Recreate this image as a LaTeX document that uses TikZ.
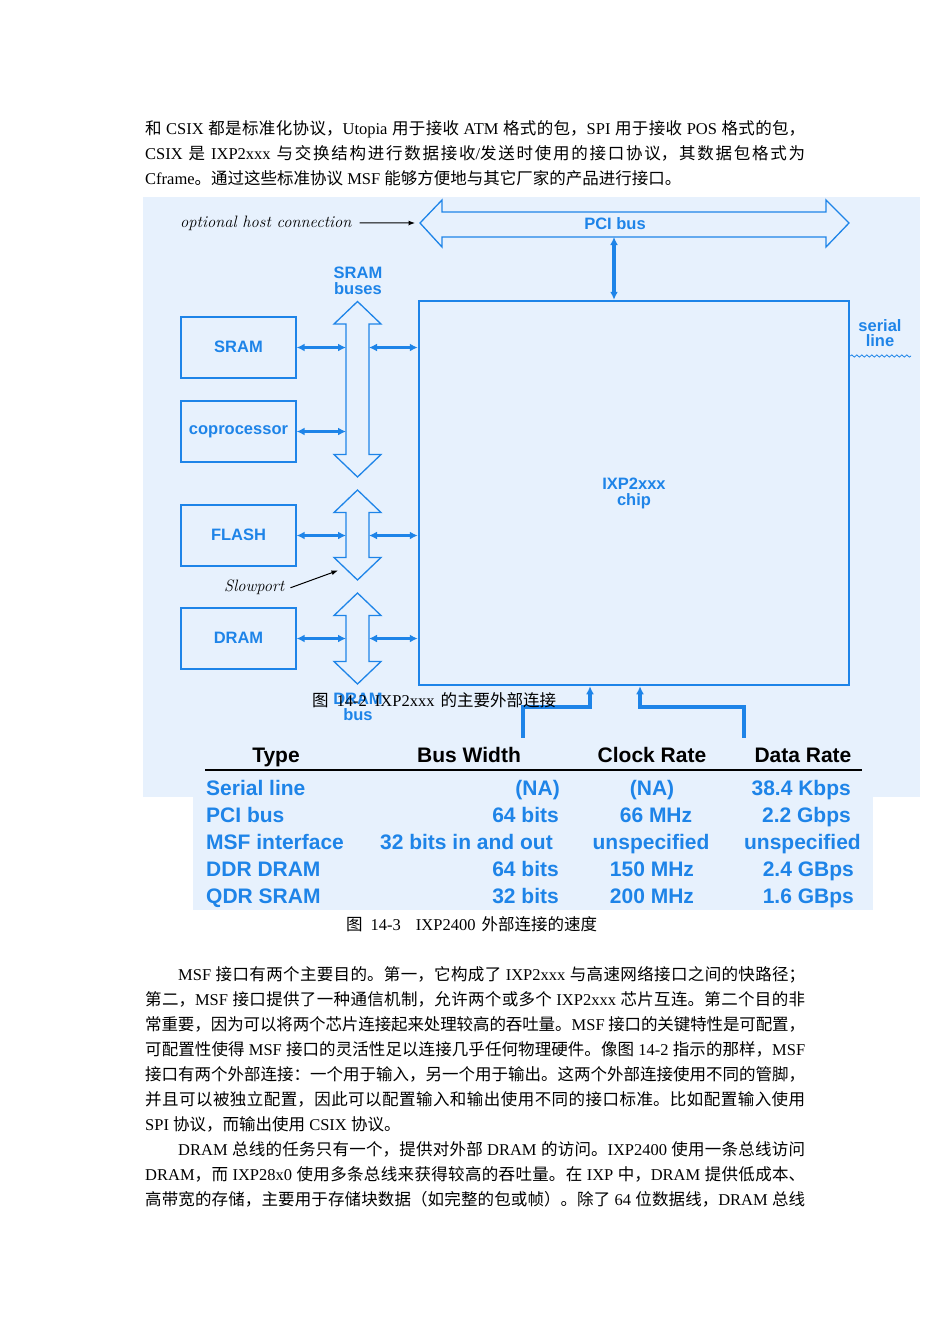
\documentclass[tikz,border=0pt]{standalone}
\usepackage{fontspec}
\newfontfamily\zhfont{Noto Sans CJK SC}
\newfontfamily\tnr{Liberation Serif}
\newfontfamily\arialf{Liberation Sans}
\usetikzlibrary{arrows.meta,decorations.pathmorphing}
\XeTeXlinebreaklocale "zh"
\XeTeXlinebreakskip=0pt plus 2pt minus 0.3pt
\XeTeXlinebreakpenalty=10000
\newcommand\en[1]{{\tnr #1}}
\definecolor{dblue}{RGB}{30,132,232}
\definecolor{panel}{RGB}{231,241,253}
% outlined vertical double arrow: x of axis, y of top tip, y of bottom tip
\newcommand\vbusarrow[3]{%
  \draw[busout] (#1,#2) -- ++(23.5,22.5) -- ++(-12,0) -- (#1+11.5,#3-22.5) -- ++(12,0)
    -- (#1,#3) -- ++(-23.5,-22.5) -- ++(12,0) -- (#1-11.5,#2+22.5) -- ++(-12,0) -- cycle;}
% one full, justified line of body text
\newcommand\fullline[1]{\tolerance=10000\hbadness=10000\leftskip=0pt\rightskip=0pt\parfillskip=0pt\relax #1\par}
\tikzset{
  bodyline/.style={anchor=base west, inner sep=0pt, text width=#1, align=justify,
    font=\zhfont\fontsize{16.5}{25}\selectfont},
  plainline/.style={anchor=base west, inner sep=0pt, font=\zhfont\fontsize{16.5}{25}\selectfont},
  busout/.style={draw=dblue, line width=1.3pt, line join=miter},
  box/.style={draw=dblue, line width=1.3pt, minimum width=115pt, minimum height=61pt,
    inner sep=0pt, text=dblue, font=\arialf\bfseries\fontsize{16.5}{18}\selectfont},
  lbl/.style={inner sep=0pt, text=dblue, align=center,
    font=\arialf\bfseries\fontsize{16.5}{15.5}\selectfont},
  note/.style={inner sep=0pt, anchor=base west, font=\itshape\fontsize{16.5}{18}\selectfont},
  conn/.style={draw=dblue, line width=3.1pt, {Latex[length=8pt,width=8pt]}-{Latex[length=8pt,width=8pt]}},
  msf/.style={draw=dblue, line width=3.1pt, -{Latex[length=8pt,width=8pt]}},
  pointer/.style={draw=black, line width=1pt, -{Latex[length=6.5pt,width=5pt]}},
  thead/.style={inner sep=0pt, anchor=base, font=\arialf\bfseries\fontsize{21}{24}\selectfont},
  tcell/.style={inner sep=0pt, text=dblue, font=\arialf\bfseries\fontsize{21}{24}\selectfont},
}
\begin{document}
\begin{tikzpicture}[x=1pt,y=-1pt]
\fill[white] (0,0) rectangle (950,1344);
\useasboundingbox (0,0) rectangle (950,1344);

% ---- text above the figure ----
\node[bodyline=660pt] (t1) at (145,134) {\fullline{和\en{~CSIX~}都是标准化协议，\en{Utopia~}用于接收\en{~ATM~}格式的包，\en{SPI~}用于接收\en{~POS~}格式的包，}};
\node[bodyline=660pt] (t2) at (145,159) {\fullline{\en{CSIX~}是\en{~IXP2xxx~}与交换结构进行数据接收\en{/}发送时使用的接口协议，其数据包格式为}};
\node[plainline] (t3) at (145,184) {\en{Cframe}。通过这些标准协议\en{~MSF~}能够方便地与其它厂家的产品进行接口。};

% ---- figure 14-2 background ----
\fill[panel] (143,197) rectangle (920,797);

% PCI bus
\draw[busout] (420,223) -- (442,200) -- (442,212) -- (826,212) -- (826,200) -- (849,223)
  -- (826,247) -- (826,237) -- (442,237) -- (442,247) -- cycle;
\node[lbl] (pcilbl) at (615,224) {PCI bus};
\coordinate (pcitip) at (415,223);
\coordinate (pcibot) at (614,237);

% host connection note
\node[note] (host) at (180,227) {optional host connection};
\draw[pointer] ([xshift=8pt]host.east) -- (pcitip);

% chip
\node[draw=dblue, line width=2.5pt, minimum width=430pt, minimum height=384pt, inner sep=0pt,
  text=dblue, align=center, font=\arialf\bfseries\fontsize{16.5}{16}\selectfont] (chip) at (634,493) {IXP2xxx\\chip};
\draw[conn] (pcibot) -- (pcibot |- chip.north);

% serial line
\node[lbl, anchor=north] (serlbl) at (880,319) {serial\\line};
\coordinate (serend) at (911,356);
\draw[dblue, line width=0.8pt, decorate, decoration={snake, amplitude=1.1pt, segment length=5pt}]
  (chip.east |- serend) -- (serend);

% memory / device boxes
\node[box] (sram) at (238.5,347.5) {\raisebox{2pt}{SRAM}};
\node[box] (copro) at (238.5,431.5) {coprocessor};
\node[box] (flash) at (238.5,535.5) {\raisebox{1.5pt}{FLASH}};
\node[box] (dram) at (238.5,638.5) {\raisebox{1.5pt}{DRAM}};

% bus arrows
\vbusarrow{357.5}{301.5}{477}
\vbusarrow{357.5}{490}{580}
\vbusarrow{357.5}{593}{684}
\node[lbl, anchor=north] (sramlbl) at (358,267) {SRAM\\buses};
\node[lbl, anchor=north] (dramlbl) at (358,693) {DRAM\\bus};
\coordinate (busL) at (346,0);
\coordinate (busR) at (369,0);

\draw[conn] (sram.east) -- (sram.east -| busL);
\draw[conn] (sram.east -| busR) -- (sram.east -| chip.west);
\draw[conn] (copro.east) -- (copro.east -| busL);
\draw[conn] (flash.east) -- (flash.east -| busL);
\draw[conn] (flash.east -| busR) -- (flash.east -| chip.west);
\draw[conn] (dram.east) -- (dram.east -| busL);
\draw[conn] (dram.east -| busR) -- (dram.east -| chip.west);

% Slowport note
\node[note] (slow) at (224,591) {Slowport};
\coordinate (slowtip) at (338,570.5);
\draw[pointer] ([xshift=6pt,yshift=-1pt]slow.east) -- (slowtip);

% MSF receive / transmit lines
\coordinate (rx) at (523,745);
\coordinate (rxk) at (590,707);
\coordinate (tx) at (744,745);
\coordinate (txk) at (640,707);
\draw[msf] (rx) |- (rxk) -- (rxk |- chip.south);
\draw[msf] (tx) |- (txk) -- (txk |- chip.south);

% caption of figure 14-2
\node[plainline] (cap1) at (312,706) {图\en{\hspace{8pt}14-2\hspace{8pt}IXP2xxx\hspace{6pt}}的主要外部连接};

% ---- table of external connection speeds ----
\fill[panel] (193,738) rectangle (873,910);
\node[thead] (hType) at (276,762.5) {Type};
\node[thead] (hBus) at (469,762.5) {Bus Width};
\node[thead] (hClk) at (652,762.5) {Clock Rate};
\node[thead] (hData) at (803,762.5) {Data Rate};
\draw[black, line width=1.4pt] (205,770) -- (862,770);

\node[tcell, anchor=base west] (r1a) at (206,795.5) {Serial line};
\node[tcell, anchor=base east] (r1b) at (560,795.5) {(NA)};
\node[tcell, anchor=base] (r1c) at (652,795.5) {(NA)};
\node[tcell, anchor=base east] (r1d) at (851,795.5) {38.4 Kbps};

\node[tcell, anchor=base west] (r2a) at (206,822.5) {PCI bus};
\node[tcell, anchor=base east] (r2b) at (559,822.5) {64 bits};
\node[tcell, anchor=base] (r2c) at (656,822.5) {66 MHz};
\node[tcell, anchor=base east] (r2d) at (851,822.5) {2.2 Gbps};

\node[tcell, anchor=base west] (r3a) at (206,849.5) {MSF interface};
\node[tcell, anchor=base east] (r3b) at (553,849.5) {32 bits in and out};
\node[tcell, anchor=base] (r3c) at (651,849.5) {unspecified};
\node[tcell, anchor=base east] (r3d) at (861,849.5) {unspecified};

\node[tcell, anchor=base west] (r4a) at (206,876.5) {DDR DRAM};
\node[tcell, anchor=base east] (r4b) at (559,876.5) {64 bits};
\node[tcell, anchor=base] (r4c) at (652,876.5) {150 MHz};
\node[tcell, anchor=base east] (r4d) at (854,876.5) {2.4 GBps};

\node[tcell, anchor=base west] (r5a) at (206,903.5) {QDR SRAM};
\node[tcell, anchor=base east] (r5b) at (559,903.5) {32 bits};
\node[tcell, anchor=base] (r5c) at (652,903.5) {200 MHz};
\node[tcell, anchor=base east] (r5d) at (854,903.5) {1.6 GBps};

% caption of figure 14-3
\node[plainline] (cap2) at (346,930) {图\en{\hspace{8pt}14-3\hspace{15pt}IXP2400\hspace{6pt}}外部连接的速度};

% ---- text below the table ----
\node[bodyline=627pt] (b1) at (178,980) {\fullline{\en{MSF~}接口有两个主要目的。第一，它构成了\en{~IXP2xxx~}与高速网络接口之间的快路径；}};
\node[bodyline=660pt] (b2) at (145,1005) {\fullline{第二，\en{MSF~}接口提供了一种通信机制，允许两个或多个\en{~IXP2xxx~}芯片互连。第二个目的非}};
\node[bodyline=660pt] (b3) at (145,1030) {\fullline{常重要，因为可以将两个芯片连接起来处理较高的吞吐量。\en{MSF~}接口的关键特性是可配置，}};
\node[bodyline=660pt] (b4) at (145,1055) {\fullline{可配置性使得\en{~MSF~}接口的灵活性足以连接几乎任何物理硬件。像图\en{~14-2~}指示的那样，\en{MSF}}};
\node[bodyline=660pt] (b5) at (145,1080) {\fullline{接口有两个外部连接：一个用于输入，另一个用于输出。这两个外部连接使用不同的管脚，}};
\node[bodyline=660pt] (b6) at (145,1105) {\fullline{并且可以被独立配置，因此可以配置输入和输出使用不同的接口标准。比如配置输入使用}};
\node[plainline] (b7) at (145,1130) {\en{SPI~}协议，而输出使用\en{~CSIX~}协议。};
\node[bodyline=627pt] (b8) at (178,1155) {\fullline{\en{DRAM~}总线的任务只有一个，提供对外部\en{~DRAM~}的访问。\en{IXP2400~}使用一条总线访问}};
\node[bodyline=660pt] (b9) at (145,1180) {\fullline{\en{DRAM}，而\en{~IXP28x0~}使用多条总线来获得较高的吞吐量。在\en{~IXP~}中，\en{DRAM~}提供低成本、}};
\node[bodyline=660pt] (b10) at (145,1205) {\fullline{高带宽的存储，主要用于存储块数据（如完整的包或帧）。除了\en{~64~}位数据线，\en{DRAM~}总线}};
\end{tikzpicture}
\end{document}
